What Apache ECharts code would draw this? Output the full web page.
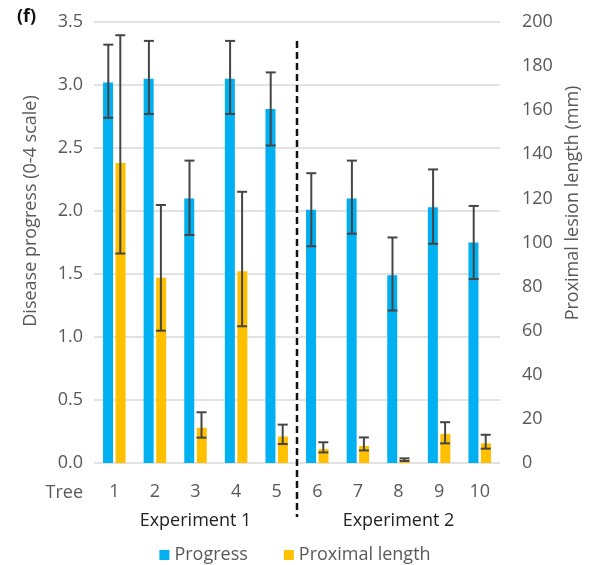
<!DOCTYPE html>
<html>
<head>
<meta charset="utf-8">
<script src="https://cdn.jsdelivr.net/npm/echarts@6/dist/echarts.min.js"></script>
<style>html,body{margin:0;padding:0;background:#fff}#c{width:590px;height:565px}</style>
</head>
<body>
<div id="c"></div>
<script>
// ---- data ----
var trees = ['1','2','3','4','5','6','7','8','9','10'];
var progress = [3.02, 3.05, 2.10, 3.05, 2.81, 2.01, 2.10, 1.49, 2.03, 1.75];
var progressLow = [2.74, 2.77, 1.81, 2.77, 2.52, 1.72, 1.82, 1.21, 1.74, 1.46];
var progressHigh = [3.32, 3.35, 2.40, 3.35, 3.10, 2.30, 2.40, 1.79, 2.33, 2.04];
var proximal = [136, 84, 16, 87, 12, 6.3, 7.7, 1.5, 13.2, 8.9];
var proximalLow = [95, 60, 11.5, 62, 8.6, 4.8, 5.7, 0.9, 8.9, 6.5];
var proximalHigh = [194, 117, 23, 123, 17.4, 9.4, 11.6, 2.1, 18.5, 12.8];
var leftTicks = {min: 0, max: 3.5, interval: 0.5};
var rightTicks = {min: 0, max: 200, interval: 20};
var groups = [{name: 'Experiment 1', center: 2}, {name: 'Experiment 2', center: 7}];

var FONT = '"Open Sans", sans-serif';
var GREY = '#595959';
var chart = echarts.init(document.getElementById('c'), null, {renderer: 'canvas'});

function errData(lo, hi) {
  return trees.map(function (t, i) { return [i, lo[i], hi[i]]; });
}
function errRender(offset) {
  return function (params, api) {
    var x = api.value(0);
    var pLo = api.coord([x, api.value(1)]);
    var pHi = api.coord([x, api.value(2)]);
    var cx = pLo[0] + offset;
    var hw = 5;
    var style = {stroke: '#454545', lineWidth: 2};
    return {
      type: 'group',
      children: [
        {type: 'line', shape: {x1: cx, y1: pHi[1], x2: cx, y2: pLo[1]}, style: style},
        {type: 'line', shape: {x1: cx - hw, y1: pHi[1], x2: cx + hw, y2: pHi[1]}, style: style},
        {type: 'line', shape: {x1: cx - hw, y1: pLo[1], x2: cx + hw, y2: pLo[1]}, style: style}
      ]
    };
  };
}

var option = {
  animation: false,
  textStyle: {fontFamily: FONT},
  grid: {left: 94, right: 90, top: 22, bottom: 102},
  legend: {
    data: ['Progress', 'Proximal length'],
    top: 541, left: 'center',
    icon: 'rect', itemWidth: 10, itemHeight: 10, itemGap: 36,
    textStyle: {fontFamily: FONT, fontSize: 18, color: GREY, padding: [0, 0, 0, 0]}
  },
  xAxis: {
    type: 'category', data: trees,
    axisLine: {show: false}, axisTick: {show: false},
    axisLabel: {fontSize: 18, color: GREY, margin: 20, fontFamily: FONT}
  },
  yAxis: [
    {
      type: 'value', min: leftTicks.min, max: leftTicks.max, interval: leftTicks.interval,
      axisLine: {show: false}, axisTick: {show: false},
      axisLabel: {fontSize: 18, color: GREY, margin: 11, fontFamily: FONT,
        formatter: function (v) { return v.toFixed(1); }},
      splitLine: {lineStyle: {color: '#d9d9d9', width: 1.5}}
    },
    {
      type: 'value', min: rightTicks.min, max: rightTicks.max, interval: rightTicks.interval,
      axisLine: {show: false}, axisTick: {show: false},
      axisLabel: {fontSize: 18, color: GREY, margin: 22, fontFamily: FONT},
      splitLine: {show: false}
    }
  ],
  series: [
    {name: 'Progress', type: 'bar', yAxisIndex: 0, data: progress,
      barWidth: 10, barGap: '25%', itemStyle: {color: '#00B0F0'}},
    {name: 'Proximal length', type: 'bar', yAxisIndex: 1, data: proximal,
      barWidth: 10, barGap: '25%', itemStyle: {color: '#FFC000'}},
    {name: 'progErr', type: 'custom', yAxisIndex: 0, data: errData(progressLow, progressHigh),
      encode: {x: 0, y: [1, 2]}, renderItem: errRender(-6), z: 5},
    {name: 'proxErr', type: 'custom', yAxisIndex: 1, data: errData(proximalLow, proximalHigh),
      encode: {x: 0, y: [1, 2]}, renderItem: errRender(6), z: 5}
  ]
};
chart.setOption(option);

// separators and group labels positioned via axis conversion
var x5 = chart.convertToPixel({xAxisIndex: 0}, 4);
var x6 = chart.convertToPixel({xAxisIndex: 0}, 5);
var sepX = (x5 + x6) / 2;
var yTop = chart.convertToPixel({yAxisIndex: 0}, 3.35);
var yZero = chart.convertToPixel({yAxisIndex: 0}, 0);
var graphics = [
  {type: 'line', shape: {x1: sepX, y1: yTop, x2: sepX, y2: yZero + 54},
    style: {stroke: '#111', lineWidth: 2.5, lineDash: [7, 4]}, z: 10},
  {type: 'text', left: 17, top: 8,
    style: {text: '(f)', fontFamily: FONT, fontSize: 18, fontWeight: 'bold', fill: '#111'}},
  {type: 'text', x: 83, y: yZero + 30,
    style: {text: 'Tree', fontFamily: FONT, fontSize: 18, fill: GREY, align: 'right', verticalAlign: 'middle'}},
  {type: 'text', x: 31, y: 211, rotation: Math.PI / 2,
    style: {text: 'Disease progress (0-4 scale)', fontFamily: FONT, fontSize: 18, fill: GREY, align: 'center', verticalAlign: 'middle'}},
  {type: 'text', x: 573, y: 203, rotation: Math.PI / 2,
    style: {text: 'Proximal lesion length (mm)', fontFamily: FONT, fontSize: 18, fill: GREY, align: 'center', verticalAlign: 'middle'}}
];
groups.forEach(function (g) {
  graphics.push({type: 'text', x: chart.convertToPixel({xAxisIndex: 0}, g.center), y: yZero + 58,
    style: {text: g.name, fontFamily: FONT, fontSize: 18, fill: '#222', align: 'center', verticalAlign: 'middle'}});
});
chart.setOption({graphic: graphics});
</script>
</body>
</html>
